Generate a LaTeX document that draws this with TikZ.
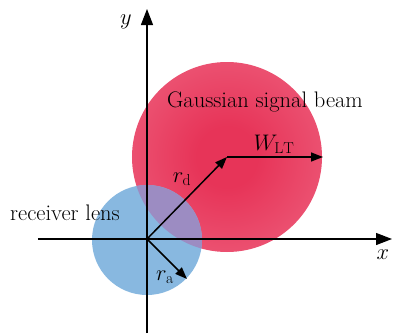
\RequirePackage{fix-cm}
\documentclass[tikz,border=0pt]{standalone}
\usepackage{fontspec}
\usetikzlibrary{arrows.meta}
\definecolor{beamcore}{RGB}{231,52,88}
\definecolor{beamedge}{RGB}{241,122,148}
\definecolor{lensblue}{RGB}{136,184,224}
\definecolor{lensover}{RGB}{156,140,194}
\pgfdeclareradialshading{beamshade}{\pgfpointorigin}{color(0bp)=(beamcore); color(8bp)=(beamcore); color(50bp)=(beamedge)}

\begin{document}
\begin{tikzpicture}[x=1pt, y=1pt,
    axis/.style={-{Triangle[length=16pt, width=12pt]}, line width=1.3pt},
    vec/.style={-{Triangle[length=12pt, width=9pt]}, line width=1.5pt},
    lbl/.style={font=\fontsize{22.5}{26}\selectfont, inner sep=0pt}
  ]
  \useasboundingbox (-147,-94) rectangle (247,239);

  % beam and lens
  \shade[shading=beamshade] (80,82) circle (95);
  \fill[lensblue] (0,-1) circle (55);
  \begin{scope}
    \clip (0,-1) circle (55);
    \fill[lensover] (80,82) circle (95);
  \end{scope}

  \coordinate (O) at (0,0);
  \coordinate (xa) at (-109,0);
  \coordinate (xb) at (245,0);
  \coordinate (ya) at (0,-94);
  \coordinate (yb) at (0,230);
  \coordinate (C) at (80,82);
  \coordinate (W) at (176,82);
  \coordinate (A) at (40,-40);

  \draw[axis] (xa) -- (xb);
  \draw[axis] (ya) -- (yb);
  \draw[vec] (O) -- (C);
  \draw[vec] (C) -- (W);
  \draw[vec] (O) -- (A);

  \node[lbl] (xlab) at (236,-16) {$x$};
  \node[lbl] (ylab) at (-21,217) {$y$};
  \node[lbl] (beam) at (118,137) {Gaussian signal beam};
  \node[lbl] (lens) at (-82,26) {receiver lens};
  \node[lbl] (wlt) at (127,95) {$W_{\mathrm{LT}}$};
  \node[lbl] (rd) at (35,60) {$r_{\mathrm{d}}$};
  \node[lbl] (ra) at (18,-38) {$r_{\mathrm{a}}$};
\end{tikzpicture}
\end{document}
